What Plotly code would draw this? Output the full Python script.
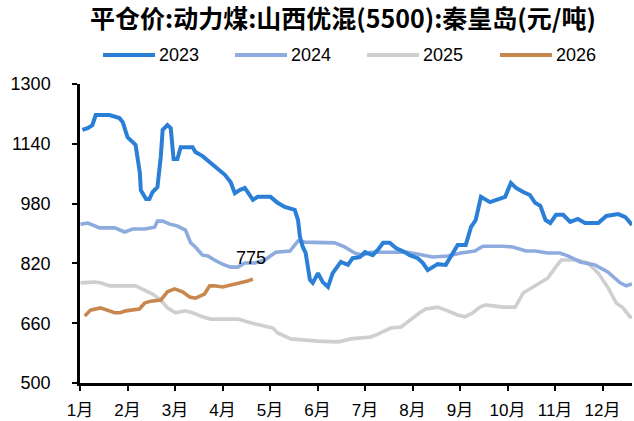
import plotly.graph_objects as go

# x positions are in months from 1 Jan (0 = 1月, 1 = 2月, ...)
months = ["1月", "2月", "3月", "4月", "5月", "6月", "7月", "8月", "9月", "10月", "11月", "12月"]
y_ticks = [500, 660, 820, 980, 1140, 1300]

x2023 = [0.05, 0.16, 0.26, 0.33, 0.62, 0.83, 0.90, 1.00, 1.17, 1.26, 1.28, 1.39, 1.46, 1.53, 1.63, 1.70,
         1.74, 1.84, 1.91, 1.97, 2.05, 2.12, 2.37, 2.43, 2.58, 2.73, 2.83, 2.96, 3.05, 3.17, 3.26, 3.36,
         3.47, 3.64, 3.74, 4.01, 4.16, 4.31, 4.52, 4.59, 4.63, 4.69, 4.75, 4.84, 4.90, 5.01, 5.11, 5.22,
         5.32, 5.49, 5.64, 5.74, 5.89, 6.00, 6.16, 6.27, 6.38, 6.52, 6.65, 6.84, 6.94, 7.11, 7.22, 7.32,
         7.53, 7.70, 7.79, 7.95, 8.12, 8.23, 8.33, 8.44, 8.63, 8.86, 8.95, 9.07, 9.18, 9.33, 9.47, 9.58,
         9.69, 9.80, 9.90, 10.02, 10.17, 10.32, 10.48, 10.63, 10.91, 11.08, 11.33, 11.48, 11.59, 11.62]
y2023 = [1177, 1182, 1190, 1217, 1217, 1209, 1198, 1158, 1137, 1062, 1016, 992, 992, 1011, 1024, 1105,
         1177, 1190, 1182, 1099, 1099, 1131, 1131, 1118, 1107, 1091, 1078, 1065, 1057, 1038, 1008, 1016,
         1022, 990, 998, 998, 982, 971, 963, 936, 891, 864, 848, 776, 768, 794, 770, 757,
         794, 824, 816, 834, 837, 850, 842, 856, 875, 875, 861, 850, 842, 834, 821, 802,
         818, 816, 837, 869, 869, 917, 936, 998, 984, 995, 998, 1035, 1022, 1011, 1003, 982,
         974, 936, 928, 950, 950, 931, 939, 928, 928, 947, 952, 944, 925, 923]

x2024 = [0.01, 0.16, 0.26, 0.41, 0.73, 0.94, 1.11, 1.36, 1.57, 1.63, 1.74, 1.89, 2.05, 2.22, 2.33, 2.43,
         2.58, 2.69, 2.83, 3.00, 3.17, 3.32, 3.47, 3.68, 3.89, 4.12, 4.42, 4.59, 4.73, 5.36, 5.57, 5.78,
         5.95, 6.12, 6.90, 7.18, 7.43, 7.74, 8.02, 8.31, 8.48, 8.90, 9.11, 9.39, 9.58, 9.85, 10.10, 10.27,
         10.53, 10.84, 11.11, 11.37, 11.50, 11.62]
y2024 = [925, 928, 923, 915, 915, 904, 912, 912, 917, 933, 933, 925, 920, 909, 875, 864,
         842, 840, 829, 818, 810, 810, 821, 821, 829, 850, 853, 880, 877, 875, 864, 848,
         842, 850, 850, 842, 837, 840, 848, 853, 866, 866, 864, 853, 853, 848, 848, 840,
         824, 816, 797, 768, 760, 765]

x2025 = [0.01, 0.31, 0.43, 0.62, 1.17, 1.36, 1.53, 1.70, 1.84, 2.01, 2.20, 2.37, 2.58, 2.75, 3.00, 3.32,
         3.59, 3.95, 4.06, 4.16, 4.44, 5.01, 5.43, 5.70, 6.12, 6.27, 6.54, 6.76, 6.96, 7.15, 7.28, 7.53,
         7.70, 7.95, 8.10, 8.27, 8.42, 8.54, 8.90, 9.16, 9.33, 9.71, 9.85, 10.00, 10.13, 10.48, 10.69, 10.91,
         11.12, 11.29, 11.43, 11.58, 11.62]
y2025 = [768, 770, 768, 760, 760, 749, 738, 722, 701, 688, 693, 688, 677, 671, 671, 671,
         661, 650, 647, 634, 618, 612, 610, 618, 623, 631, 647, 650, 671, 688, 698, 703,
         695, 682, 677, 688, 703, 709, 703, 703, 741, 770, 781, 808, 829, 829, 821, 794,
         754, 714, 701, 677, 677]

x2026 = [0.10, 0.22, 0.43, 0.58, 0.73, 0.85, 0.96, 1.25, 1.36, 1.49, 1.70, 1.84, 1.99, 2.16, 2.31, 2.43,
         2.62, 2.73, 2.83, 3.00, 3.11, 3.32, 3.53, 3.64]
y2026 = [679, 695, 701, 695, 688, 688, 693, 698, 714, 719, 722, 744, 752, 744, 730, 727,
         738, 760, 760, 757, 760, 768, 773, 778]

last_label = "775"
last_label_x = 3.61
last_label_y = 834

names = ["2023", "2024", "2025", "2026"]
colors = ["#2B7FD6", "#8EABDF", "#CFCFCF", "#C8874F"]
widths = [4, 3.6, 3.6, 3.6]
xs = [x2023, x2024, x2025, x2026]
ys = [y2023, y2024, y2025, y2026]

FONT = "Arial, Liberation Sans, Noto Sans CJK SC, sans-serif"

fig = go.Figure()
# draw older years first so 2023 sits on top
for i in [2, 1, 3, 0]:
    fig.add_trace(go.Scatter(x=xs[i], y=ys[i], mode="lines", name=names[i],
                             line=dict(color=colors[i], width=widths[i], shape="linear"),
                             showlegend=False, hoverinfo="skip"))

fig.add_annotation(x=last_label_x, y=last_label_y, text=last_label, showarrow=False,
                   font=dict(family=FONT, size=18, color="#000000"), xanchor="center", yanchor="middle")

# custom legend in paper coordinates
leg_x0 = [103, 235, 367, 500]
for i, n in enumerate(names):
    x0 = leg_x0[i]
    fig.add_shape(type="line", xref="paper", yref="paper",
                  x0=(x0 - 80) / 552, x1=(x0 + 52 - 80) / 552,
                  y0=(421 - 38 - 55) / 299, y1=(421 - 38 - 55) / 299,
                  line=dict(color=colors[i], width=4))
    fig.add_annotation(xref="paper", yref="paper", x=(x0 + 54 - 80) / 552, y=(421 - 38 - 55) / 299,
                       text=n, showarrow=False, xanchor="left", yanchor="middle",
                       font=dict(family=FONT, size=18, color="#000000"))

fig.update_layout(
    width=634, height=421,
    margin=dict(l=80, r=2, t=84, b=38),
    paper_bgcolor="white", plot_bgcolor="white",
    title=dict(text="<b>平仓价:动力煤:山西优混(5500):秦皇岛(元/吨)</b>", x=343 / 634, xanchor="center",
               y=1 - 19 / 421, yanchor="middle",
               font=dict(family="Noto Sans CJK SC", size=25, color="#000000")),
    xaxis=dict(range=[0, 11.62], tickmode="array", tickvals=list(range(12)), ticktext=months,
               showgrid=False, zeroline=False, showline=True, linecolor="#000000", linewidth=2.5,
               ticks="outside", ticklen=5, tickwidth=2, tickcolor="#000000", ticklabelstandoff=5,
               tickfont=dict(family=FONT, size=17, color="#000000")),
    yaxis=dict(range=[500, 1300], tickmode="array", tickvals=y_ticks,
               showgrid=False, zeroline=False, showline=True, linecolor="#000000", linewidth=2.5,
               ticks="outside", ticklen=5, tickwidth=2, tickcolor="#000000", ticklabelstandoff=18,
               tickfont=dict(family=FONT, size=18, color="#000000")),
)

fig.write_html("out.html", config={"displayModeBar": False},
               post_script="document.body.style.margin='0';document.body.style.padding='0';")
